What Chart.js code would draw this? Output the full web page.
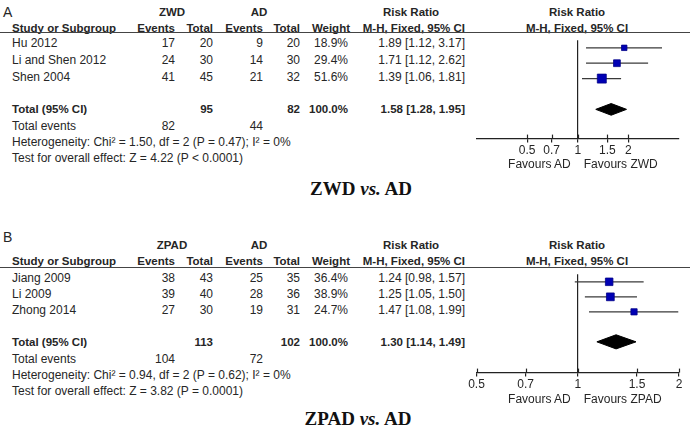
<!DOCTYPE html>
<html><head><meta charset="utf-8">
<script src="https://cdn.jsdelivr.net/npm/chart.js@4.4.0/dist/chart.umd.min.js"></script>
<style>
html,body{margin:0;padding:0;background:#fff;}
#page{position:relative;width:690px;height:433px;overflow:hidden;font-family:"Liberation Sans",Arial,sans-serif;font-size:12px;color:#262626;}
.t{position:absolute;white-space:nowrap;line-height:14px;}
.b{font-weight:bold;font-size:11.5px;}
.lbl{font-size:14px;}
.rule{position:absolute;left:0;width:690px;height:0;border-top:1.5px solid #444;}
.title{position:absolute;white-space:nowrap;font-family:"Liberation Serif","Times New Roman",serif;font-weight:bold;font-size:19px;color:#111;line-height:22px;}
canvas{position:absolute;}
</style></head>
<body><div id="page"></div>
<script>
// ---------------- Panel A data ----------------
const studiesA = ['Hu 2012', 'Li and Shen 2012', 'Shen 2004'];
const zwdEvents = [17, 24, 41];
const zwdTotal = [20, 30, 45];
const adEventsA = [9, 14, 21];
const adTotalA = [20, 30, 32];
const weightA = [18.9, 29.4, 51.6];
const rrA = [1.89, 1.71, 1.39];
const lowA = [1.12, 1.12, 1.06];
const highA = [3.17, 2.62, 1.81];
const pooledA = [1.58, 1.28, 1.95];          // estimate, lower, upper
const totalsA = [95, 82];
const totalEventsA = [82, 44];
const heteroA = 'Heterogeneity: Chi\u00B2 = 1.50, df = 2 (P = 0.47); I\u00B2 = 0%';
const overallA = 'Test for overall effect: Z = 4.22 (P < 0.0001)';
const tickValsA = [0.5, 0.7, 1, 1.5, 2];
const tickLabelsA = ['0.5', '0.7', '1', '1.5', '2'];
const axisRangeA = [0.25, 4];

// ---------------- Panel B data ----------------
const studiesB = ['Jiang 2009', 'Li 2009', 'Zhong 2014'];
const zpadEvents = [38, 39, 27];
const zpadTotal = [43, 40, 30];
const adEventsB = [25, 28, 19];
const adTotalB = [35, 36, 31];
const weightB = [36.4, 38.9, 24.7];
const rrB = [1.24, 1.25, 1.47];
const lowB = [0.98, 1.05, 1.08];
const highB = [1.57, 1.50, 1.99];
const pooledB = [1.30, 1.14, 1.49];
const totalsB = [113, 102];
const totalEventsB = [104, 72];
const heteroB = 'Heterogeneity: Chi\u00B2 = 0.94, df = 2 (P = 0.62); I\u00B2 = 0%';
const overallB = 'Test for overall effect: Z = 3.82 (P = 0.0001)';
const tickValsB = [0.5, 0.7, 1, 1.5, 2];
const tickLabelsB = ['0.5', '0.7', '1', '1.5', '2'];
const axisRangeB = [0.5, 2];

// ---------------- helpers ----------------
const page = document.getElementById('page');
Chart.defaults.font.family = '"Liberation Sans", Arial, sans-serif';
function put(txt, x, y, align, cls) {
  const d = document.createElement('div');
  d.className = 't ' + (cls || '');
  d.textContent = txt;
  d.style.left = x + 'px';
  d.style.top = y + 'px';
  const tx = align === 'right' ? '-100%' : (align === 'center' ? '-50%' : '0');
  d.style.transform = 'translate(' + tx + ',-50%)';
  page.appendChild(d);
  return d;
}
const ci = (e, l, h) => e.toFixed(2) + ' [' + l.toFixed(2) + ', ' + h.toFixed(2) + ']';

const crossTicks = {
  id: 'crossTicks',
  afterDraw(chart) {
    const s = chart.scales.x, c = chart.ctx, y = chart.chartArea.bottom;
    c.save();
    c.strokeStyle = '#222'; c.lineWidth = 1.2;
    s.ticks.forEach(t => {
      const x = Math.round(s.getPixelForValue(t.value)) + 0.5;
      c.beginPath(); c.moveTo(x, y - 4); c.lineTo(x, y); c.stroke();
    });
    c.restore();
  }
};

// columns (right edges)
const COL = {name: 12, evT: 175, totT: 213, evC: 263, totC: 300, w: 348, rr: 465, plot: 577};

function panel(D, L) {
  put(L.letter, 3, L.yLetter, 'left', 'lbl');
  put(D.grpT, 172, L.yH1, 'center', 'b');
  put('AD', 259, L.yH1, 'center', 'b');
  put('Risk Ratio', 411, L.yH1, 'center', 'b');
  put('Risk Ratio', COL.plot, L.yH1, 'center', 'b');
  put('Study or Subgroup', COL.name, L.yH2, 'left', 'b');
  put('Events', COL.evT, L.yH2, 'right', 'b');
  put('Total', COL.totT, L.yH2, 'right', 'b');
  put('Events', COL.evC, L.yH2, 'right', 'b');
  put('Total', COL.totC, L.yH2, 'right', 'b');
  put('Weight', COL.w + 2, L.yH2, 'right', 'b');
  put('M-H, Fixed, 95% CI', COL.rr, L.yH2, 'right', 'b');
  put('M-H, Fixed, 95% CI', COL.plot, L.yH2, 'center', 'b');
  const r = document.createElement('div'); r.className = 'rule'; r.style.top = L.yRule + 'px'; page.appendChild(r);
  D.studies.forEach((s, i) => {
    const y = L.yRows[i];
    put(s, COL.name, y, 'left');
    put(String(D.evT[i]), COL.evT, y, 'right');
    put(String(D.totT[i]), COL.totT, y, 'right');
    put(String(D.evC[i]), COL.evC, y, 'right');
    put(String(D.totC[i]), COL.totC, y, 'right');
    put(D.weight[i].toFixed(1) + '%', COL.w, y, 'right');
    put(ci(D.rr[i], D.low[i], D.high[i]), COL.rr, y, 'right');
  });
  put('Total (95% CI)', COL.name, L.yTotal, 'left', 'b');
  put(String(D.totals[0]), COL.totT, L.yTotal, 'right', 'b');
  put(String(D.totals[1]), COL.totC, L.yTotal, 'right', 'b');
  put('100.0%', COL.w, L.yTotal, 'right', 'b');
  put(ci(D.pooled[0], D.pooled[1], D.pooled[2]), COL.rr, L.yTotal, 'right', 'b');
  put('Total events', COL.name, L.yTE, 'left');
  put(String(D.totEv[0]), COL.evT, L.yTE, 'right');
  put(String(D.totEv[1]), COL.evC, L.yTE, 'right');
  put(D.hetero, COL.name, L.yHet, 'left');
  put(D.overall, COL.name, L.yTest, 'left');
  const t = document.createElement('div'); t.className = 'title';
  t.innerHTML = D.grpT + ' <i>vs.</i> AD';
  t.style.left = L.titleX + 'px'; t.style.top = L.titleY + 'px';
  t.style.transform = 'translate(-50%,-50%)';
  page.appendChild(t);

  // ---- forest plot ----
  const cv = document.createElement('canvas');
  cv.width = L.cvW; cv.height = L.cvH;
  cv.style.left = L.cvX + 'px'; cv.style.top = L.cvY + 'px';
  page.appendChild(cv);
  const n = D.studies.length;
  const totalRow = n + 1;
  const datasets = [];
  datasets.push({
    label: 'studies', order: 0,
    data: D.rr.map((v, i) => ({x: v, y: i})),
    pointStyle: 'rect',
    pointRadius: c => 1.25 * Math.sqrt(D.weight[c.dataIndex]) / Math.SQRT2,
    backgroundColor: '#0000b4', borderColor: '#000088', borderWidth: 0.8, showLine: false
  });
  D.studies.forEach((s, i) => datasets.push({
    label: s, order: 2, showLine: true,
    data: [{x: D.low[i], y: i}, {x: D.high[i], y: i}],
    borderColor: '#3a3a3a', borderWidth: 1.2, pointRadius: 0
  }));
  const h = L.diamondH;
  datasets.push({
    label: 'pooledUpper', order: 1, showLine: true, fill: false,
    data: [{x: D.pooled[1], y: totalRow}, {x: D.pooled[0], y: totalRow - h}, {x: D.pooled[2], y: totalRow}],
    borderColor: '#000', borderWidth: 1, pointRadius: 0, tension: 0
  });
  datasets.push({
    label: 'pooledLower', order: 1, showLine: true, fill: '-1',
    data: [{x: D.pooled[1], y: totalRow}, {x: D.pooled[0], y: totalRow + h}, {x: D.pooled[2], y: totalRow}],
    borderColor: '#000', borderWidth: 1, pointRadius: 0, backgroundColor: '#000', tension: 0
  });
  const chart = new Chart(cv, {
    type: 'scatter',
    data: {datasets},
    options: {
      responsive: false, animation: false, devicePixelRatio: 1,
      layout: {padding: {left: L.padL, right: L.padR, top: 0, bottom: 0}},
      plugins: {legend: {display: false}, tooltip: {enabled: false}},
      scales: {
        x: {
          type: 'logarithmic', min: D.range[0], max: D.range[1], position: 'bottom',
          afterBuildTicks: s => { s.ticks = D.tickVals.map(v => ({value: v})); },
          ticks: {autoSkip: false, maxRotation: 0, padding: 1, color: '#262626',
                  font: {size: 12}, callback: (v, i) => D.tickLabels[i]},
          grid: {drawOnChartArea: true, drawTicks: true, tickLength: 4, tickColor: '#222', tickWidth: 1.2,
                 lineWidth: 1.2, color: c => (c.tick && c.tick.value === 1) ? '#222' : 'rgba(0,0,0,0)'},
          border: {display: true, color: '#222', width: 1.3}
        },
        y: {type: 'linear', min: -0.5, max: L.yMax, reverse: true, display: false}
      }
    },
    plugins: [crossTicks]
  });
  const p1 = L.cvX + chart.scales.x.getPixelForValue(1);
  put('Favours AD', p1 - 7, L.yFav, 'right');
  put('Favours ' + D.grpT, p1 + 6, L.yFav, 'left');
}

panel({
  grpT: 'ZWD', studies: studiesA, evT: zwdEvents, totT: zwdTotal, evC: adEventsA, totC: adTotalA,
  weight: weightA, rr: rrA, low: lowA, high: highA, pooled: pooledA, totals: totalsA, totEv: totalEventsA,
  hetero: heteroA, overall: overallA, tickVals: tickValsA, tickLabels: tickLabelsA, range: axisRangeA
}, {
  letter: 'A', yLetter: 12, yH1: 11.7, yH2: 28, yRule: 32, yRows: [43.3, 60, 77], yTotal: 108.5,
  yTE: 125.5, yHet: 142, yTest: 158.3, titleX: 361, titleY: 188.5,
  cvX: 464, cvY: 33, cvW: 226, cvH: 126, padL: 12.5, padR: 11, yMax: 5.9, diamondH: 0.38, yFav: 164
});

panel({
  grpT: 'ZPAD', studies: studiesB, evT: zpadEvents, totT: zpadTotal, evC: adEventsB, totC: adTotalB,
  weight: weightB, rr: rrB, low: lowB, high: highB, pooled: pooledB, totals: totalsB, totEv: totalEventsB,
  hetero: heteroB, overall: overallB, tickVals: tickValsB, tickLabels: tickLabelsB, range: axisRangeB
}, {
  letter: 'B', yLetter: 236.5, yH1: 245, yH2: 260.5, yRule: 266.5, yRows: [277.7, 293.5, 309.5], yTotal: 342.3,
  yTE: 358.5, yHet: 375, yTest: 391, titleX: 358, titleY: 419,
  cvX: 464, cvY: 267.5, cvW: 226, cvH: 125, padL: 12.5, padR: 11, yMax: 6.05, diamondH: 0.47, yFav: 399
});
</script>
</body></html>
